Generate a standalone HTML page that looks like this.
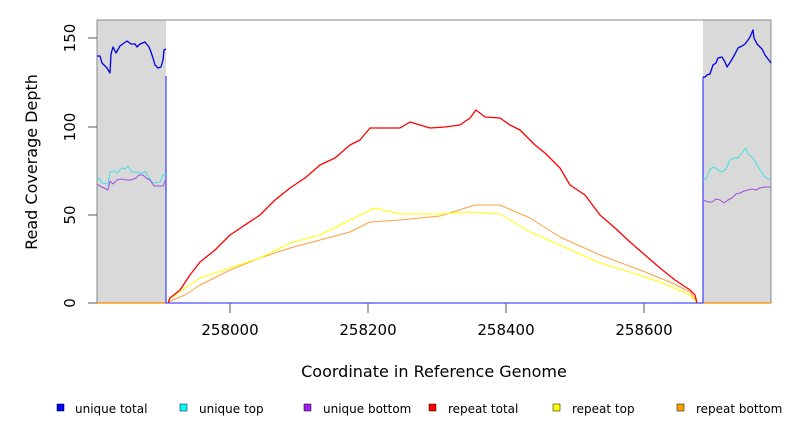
<!DOCTYPE html><html><head><style>body{margin:0;background:#fff}svg{display:block;font-family:"DejaVu Sans","Liberation Sans",sans-serif}</style></head><body>
<svg width="792" height="432" viewBox="0 0 792 432">
<rect x="97" y="20" width="69" height="283" fill="#d9d9d9"/>
<rect x="703" y="20" width="68" height="283" fill="#d9d9d9"/>
<rect x="97" y="20" width="674" height="283" fill="none" stroke="#888" stroke-width="1"/>
<g stroke="#555" fill="none"><line x1="88" y1="303" x2="97" y2="303"/><line x1="88" y1="215" x2="97" y2="215"/><line x1="88" y1="127" x2="97" y2="127"/><line x1="88" y1="38" x2="97" y2="38"/>
<line x1="230" y1="303" x2="230" y2="313"/><line x1="368" y1="303" x2="368" y2="313"/><line x1="506" y1="303" x2="506" y2="313"/><line x1="644" y1="303" x2="644" y2="313"/></g>
<g font-size="15" fill="#000" text-anchor="middle">
<text transform="translate(75,303) rotate(-90)">0</text><text transform="translate(75,215) rotate(-90)">50</text><text transform="translate(75,127) rotate(-90)">100</text><text transform="translate(75,38) rotate(-90)">150</text>
<text x="230" y="335">258000</text><text x="368" y="335">258200</text><text x="506" y="335">258400</text><text x="644" y="335">258600</text>
<text x="434" y="377" font-size="16">Coordinate in Reference Genome</text>
<text transform="translate(37,162) rotate(-90)" font-size="16">Read Coverage Depth</text></g>
<g fill="none" stroke-width="1.3" stroke-linejoin="round">
<line x1="97" y1="303" x2="166" y2="303" stroke="#f80"/><line x1="703" y1="303" x2="771" y2="303" stroke="#f80"/>
<polyline stroke="#ffa040" stroke-width="1" points="168,302 185,295 200,285 230,270 260,258 290,248 320,240 350,232 370,222 400,220 440,216 475,205 500,205 530,218 560,237 600,255 640,270 670,282 690,292 697,303"/>
<polyline stroke="#ff0" stroke-width="1" points="168,300 185,288 200,278 230,268 260,258 290,243 320,235 350,220 375,208 400,214 440,214 470,212 500,214 530,232 560,245 600,263 630,272 660,282 690,295 697,303"/>
<polyline stroke="#f00" points="168,303 170,298 180,290 190,275 200,262 215,250 230,235 260,215 275,200 290,188 305,178 320,165 335,158 350,145 360,140 370,128 385,128 400,128 410,122 430,128 445,127 460,125 470,118 476,110 485,117 500,118 510,125 520,130 535,145 545,153 560,168 570,185 585,195 600,215 615,228 630,242 645,255 660,268 675,280 690,290 695,295 697,303"/>
<polyline stroke="#4b4bff" points="166,76 166,303 703,303 703,77"/>
<polyline stroke="#0000e0" points="97,56 100,56 102,63 107,68 110,73 111,54 113,47 116,53 120,46 124,43 127,41 131,44 135,44 137,47 140,44 145,42 149,47 151,52 153,58 155,65 158,68 161,67 163,60 164,50 166,49"/>
<polyline stroke="#0000e0" points="703,77 705,77 707,75 710,74 713,65 716,63 718,58 722,57 725,62 727,67 731,61 735,54 738,48 742,46 745,44 748,40 750,37 753,30 754,38 757,44 762,49 765,55 768,59 771,63"/>
<polyline stroke="#40e0e0" stroke-width="1" points="97,179 100,179 102,183 108,184 110,172 114,171 117,173 122,168 125,169 128,166 132,172 136,172 140,173 143,173 145,171 148,176 152,182 156,183 160,182 163,175 166,175"/>
<polyline stroke="#40e0e0" stroke-width="1" points="703,179 706,179 710,169 714,167 718,170 722,172 726,169 730,160 734,158 738,158 742,153 746,148 748,154 752,157 756,163 760,170 764,176 768,179 771,180"/>
<polyline stroke="#a050e0" stroke-width="1" points="97,184 100,186 104,188 108,190 110,181 113,184 117,180 122,179 126,180 131,180 136,178 139,175 143,175 146,178 150,180 154,186 158,186 163,186 166,179"/>
<polyline stroke="#a050e0" stroke-width="1" points="703,200 708,202 712,202 716,199 720,200 724,203 728,200 732,198 736,194 740,193 744,191 748,190 752,189 756,190 760,188 764,187 768,187 771,187"/>
</g>
<g font-size="12" fill="#000">
<rect x="57" y="404" width="7" height="7" fill="#00f" stroke="#000" stroke-width=".5"/><text x="75" y="413">unique total</text>
<rect x="180" y="404" width="7" height="7" fill="#0ff" stroke="#000" stroke-width=".5"/><text x="199" y="413">unique top</text>
<rect x="304" y="404" width="7" height="7" fill="#a020f0" stroke="#000" stroke-width=".5"/><text x="323" y="413">unique bottom</text>
<rect x="429" y="404" width="7" height="7" fill="#f00" stroke="#000" stroke-width=".5"/><text x="448" y="413">repeat total</text>
<rect x="553" y="404" width="7" height="7" fill="#ff0" stroke="#000" stroke-width=".5"/><text x="572" y="413">repeat top</text>
<rect x="677" y="404" width="7" height="7" fill="#ffa500" stroke="#000" stroke-width=".5"/><text x="696" y="413">repeat bottom</text>
</g>
</svg></body></html>
